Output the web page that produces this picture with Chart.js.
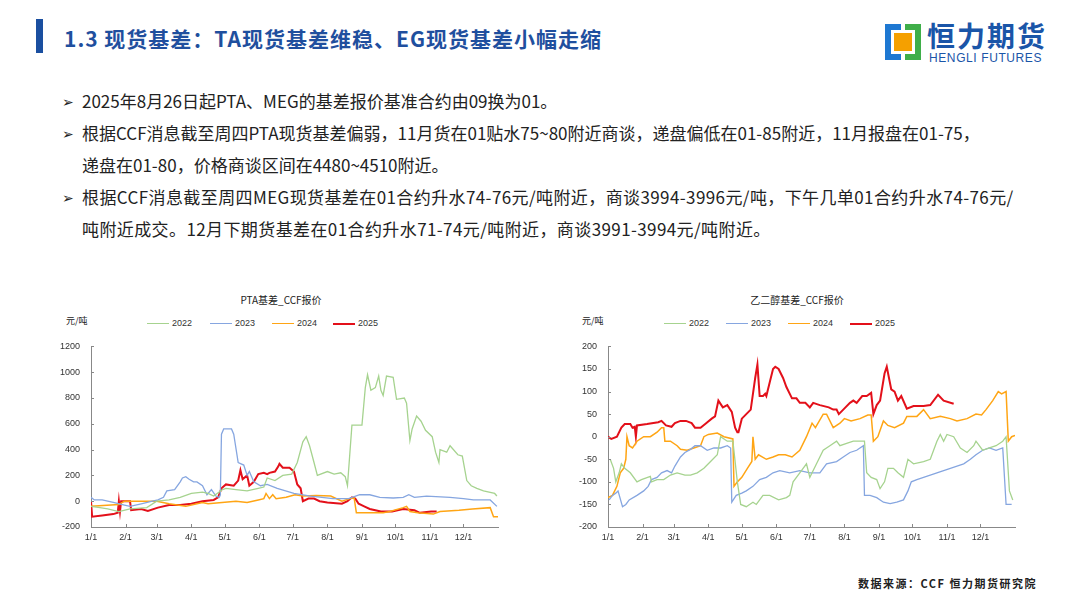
<!DOCTYPE html>
<html>
<head>
<meta charset="utf-8">
<script src="https://cdn.jsdelivr.net/npm/chart.js@4.4.1/dist/chart.umd.min.js"></script>
<style>
  body { margin: 0; background: #fff; font-family: "Noto Sans CJK SC", sans-serif; }
  #slide { position: relative; width: 1080px; height: 608px; overflow: hidden; background: #fff; }
  .bar { position: absolute; left: 36px; top: 19px; width: 7px; height: 34px; background: #1a4fa0; }
  .head { position: absolute; left: 64px; top: 21px; font-size: 21px; font-weight: 700; color: #1f4f9e; letter-spacing: 1px; line-height: 34px; white-space: nowrap; }
  .logo { position: absolute; left: 883px; top: 22px; width: 170px; height: 42px; }
  .logo .ic { position: absolute; left: 0; top: 0; width: 40px; height: 40px; }
  .logo .cn { position: absolute; left: 44px; top: -7px; font-size: 28px; font-weight: 700; color: #1a55a8; letter-spacing: 2px; white-space: nowrap; }
  .logo .en { position: absolute; left: 46px; top: 29px; font-size: 12px; color: #1a55a8; font-family: "Liberation Sans", sans-serif; letter-spacing: 0.6px; white-space: nowrap; }
  .bullets { position: absolute; left: 62px; top: 85px; font-size: 17px; color: #222; line-height: 32px; }
  .bullets div { position: relative; padding-left: 20px; white-space: nowrap; }
  .bullets div::before { content: "➢"; position: absolute; left: 0; top: 0; font-size: 14px; }
  .bullets .b3 { letter-spacing: 0.4px; }
  .ctitle { position: absolute; font-size: 10px; color: #222; transform: translateX(-50%); white-space: nowrap; }
  .unit { position: absolute; font-size: 9px; color: #222; white-space: nowrap; }
  .leg { position: absolute; font-size: 9px; color: #333; font-family: "Liberation Sans", sans-serif; white-space: nowrap; }
  .leg span.l { display: inline-block; width: 22px; height: 0; vertical-align: middle; margin-right: 3px; }
  .src { position: absolute; left: 858px; top: 575px; font-size: 11px; color: #222; letter-spacing: 1.5px; font-weight: 700; white-space: nowrap; }
  canvas { position: absolute; }
</style>
</head>
<body>
<div id="slide">
  <div class="bar"></div>
  <div class="head">1.3 现货基差：TA现货基差维稳、EG现货基差小幅走缩</div>
  <div class="logo">
    <svg class="ic" viewBox="0 0 40 40">
      <rect x="0" y="0" width="40" height="40" fill="#fff"/>
      <path d="M2 2 H18 V8 H8 V32 H18 V38 H2 Z" fill="#1e78d2"/>
      <path d="M22 2 H38 V38 H22 V32 H32 V8 H22 Z" fill="#3fae49"/>
      <rect x="11" y="11" width="18" height="18" fill="#f5a000"/>
    </svg>
    <div class="cn">恒力期货</div>
    <div class="en">HENGLI FUTURES</div>
  </div>
  <div class="bullets">
    <div>2025年8月26日起PTA、MEG的基差报价基准合约由09换为01。</div>
    <div>根据CCF消息截至周四PTA现货基差偏弱，11月货在01贴水75~80附近商谈，递盘偏低在01-85附近，11月报盘在01-75，<br>递盘在01-80，价格商谈区间在4480~4510附近。</div>
    <div class="b3">根据CCF消息截至周四MEG现货基差在01合约升水74-76元/吨附近，商谈3994-3996元/吨，下午几单01合约升水74-76元/<br>吨附近成交。12月下期货基差在01合约升水71-74元/吨附近，商谈3991-3994元/吨附近。</div>
  </div>

  <div class="ctitle" style="left:281px; top:292px;">PTA基差_CCF报价</div>
  <div class="unit" style="left:66px; top:314px;">元/吨</div>
  <div id="legL"></div>
  <canvas id="ptaChart" style="left:50px; top:330px;" width="470" height="215"></canvas>

  <div class="ctitle" style="left:797px; top:292px;">乙二醇基差_CCF报价</div>
  <div class="unit" style="left:582px; top:314px;">元/吨</div>
  <div id="legR"></div>
  <canvas id="megChart" style="left:567px; top:330px;" width="470" height="215"></canvas>

  <div class="src">数据来源：CCF 恒力期货研究院</div>
</div>

<script>
// 年份 & 颜色
const years = ['2022', '2023', '2024', '2025'];
const colors = ['#a6d38f', '#86a6e0', '#ffa514', '#e3101a'];
const widths = [1.3, 1.3, 1.5, 2];

// 月初（一年中的第几天）与刻度标签
const monthDays = [0, 31, 59, 90, 120, 151, 181, 212, 243, 273, 304, 334];
const monthLabels = ['1/1', '2/1', '3/1', '4/1', '5/1', '6/1', '7/1', '8/1', '9/1', '10/1', '11/1', '12/1'];

// PTA基差 [第几天, 元/吨]
const pta2022 = [[0,-40],[8,-50],[15,-60],[25,-80],[35,-60],[50,-50],[59,0],[70,10],[80,30],[90,60],[100,70],[105,60],[110,40],[118,90],[121,100],[130,90],[140,80],[150,100],[155,110],[158,180],[165,160],[172,200],[180,210],[185,300],[190,460],[193,500],[196,430],[200,300],[203,200],[212,230],[218,210],[224,220],[228,190],[230,120],[234,590],[243,590],[246,880],[248,980],[251,860],[255,880],[258,970],[260,860],[262,820],[265,970],[271,960],[274,790],[281,800],[283,760],[286,470],[288,560],[292,660],[296,620],[300,550],[306,500],[309,380],[312,300],[313,400],[319,380],[322,430],[329,360],[333,350],[337,160],[341,120],[346,100],[352,80],[362,60],[364,40]];
const pta2023 = [[0,30],[3,10],[10,10],[20,-10],[30,-30],[35,-40],[45,-20],[55,0],[60,10],[65,30],[68,80],[75,90],[80,150],[82,180],[85,190],[88,170],[92,150],[95,150],[100,120],[104,50],[108,90],[112,40],[115,30],[116,50],[117,520],[119,560],[126,560],[128,520],[132,300],[137,280],[140,200],[142,230],[146,150],[152,120],[158,130],[167,100],[182,60],[197,40],[217,20],[231,20],[241,50],[250,50],[259,30],[271,25],[280,30],[285,50],[290,30],[301,40],[322,30],[334,20],[343,10],[358,10],[364,-40]];
const pta2024 = [[0,-40],[25,-25],[30,0],[59,0],[70,-20],[85,-40],[95,-20],[100,-10],[105,-20],[130,0],[140,-10],[150,10],[155,20],[157,60],[160,20],[163,50],[166,20],[175,30],[183,50],[190,40],[202,45],[215,40],[225,0],[232,20],[236,25],[238,-90],[262,-90],[268,-80],[280,-50],[283,-40],[286,-80],[293,-90],[307,-100],[313,-80],[330,-70],[342,-60],[358,-50],[361,-120],[365,-120]];
const pta2025 = [[0,0],[1,-120],[10,-110],[20,-100],[24,-90],[25,0],[26,-80],[27,0],[35,0],[36,-70],[45,-60],[51,-75],[60,-50],[70,-30],[80,-30],[90,-20],[100,0],[110,10],[114,30],[117,100],[121,130],[128,120],[132,160],[134,240],[136,170],[140,200],[142,120],[146,150],[150,210],[155,220],[158,210],[160,220],[165,230],[168,270],[169,290],[172,260],[178,260],[182,230],[185,130],[188,100],[190,0],[195,20],[200,20],[205,0],[212,-10],[225,-20],[230,0],[234,30],[237,20],[240,-20],[245,-40],[250,-60],[255,-70],[260,-80],[270,-80],[280,-60],[290,-70],[295,-90],[305,-80],[310,-80]];

// 乙二醇基差 [第几天, 元/吨]
const meg2022 = [[2,-50],[5,-70],[7,-100],[10,-80],[12,-60],[15,-70],[20,-80],[26,-100],[30,-95],[38,-88],[39,-100],[44,-95],[50,-95],[56,-85],[62,-80],[69,-85],[74,-85],[80,-80],[86,-70],[92,-55],[98,-40],[101,0],[107,-10],[112,-10],[116,-100],[119,-150],[124,-155],[130,-145],[133,-150],[139,-130],[145,-130],[153,-140],[160,-135],[163,-130],[166,-100],[172,-80],[178,-60],[181,-90],[187,-60],[193,-30],[199,-20],[205,-10],[208,-20],[214,-15],[220,-10],[226,-10],[230,-10],[232,-80],[236,-90],[241,-95],[244,-115],[248,-100],[251,-70],[256,-70],[260,-80],[265,-90],[269,-50],[274,-60],[283,-55],[289,-50],[292,-30],[295,-10],[298,5],[301,-10],[304,5],[310,0],[316,-25],[322,-35],[328,-20],[330,-10],[336,-30],[342,-25],[348,-20],[354,-10],[357,0],[360,-120],[363,-140]];
const meg2023 = [[1,-140],[4,-130],[7,-125],[9,-120],[13,-155],[16,-150],[19,-140],[26,-130],[32,-120],[36,-110],[39,-95],[44,-90],[48,-80],[53,-75],[57,-80],[60,-65],[65,-45],[69,-35],[74,-28],[78,-20],[83,-20],[89,-30],[95,-25],[101,-25],[107,-20],[110,-25],[111,-145],[115,-130],[120,-125],[124,-120],[130,-110],[136,-95],[142,-90],[148,-80],[154,-75],[163,-80],[172,-75],[181,-80],[190,-80],[196,-60],[205,-55],[211,-45],[217,-35],[223,-30],[229,-20],[230,-130],[235,-130],[241,-135],[247,-145],[253,-148],[259,-145],[265,-140],[269,-120],[272,-100],[277,-95],[283,-90],[289,-85],[295,-80],[301,-75],[307,-70],[313,-65],[319,-60],[325,-50],[330,-40],[336,-30],[342,-25],[348,-30],[354,-25],[357,-150],[362,-150]];
const meg2024 = [[0,-135],[4,-130],[8,-110],[11,-80],[14,-70],[16,-50],[17,0],[19,-20],[22,-25],[26,-10],[32,0],[38,0],[44,10],[48,20],[50,20],[51,-10],[56,-10],[62,-20],[65,-28],[71,-30],[77,-25],[83,-20],[86,0],[90,5],[98,8],[104,0],[112,-5],[113,-110],[116,-100],[120,-90],[125,-70],[129,-55],[130,0],[132,-50],[135,-40],[142,-50],[148,-45],[153,-40],[159,-40],[165,-45],[172,-30],[178,0],[183,30],[186,20],[193,50],[196,50],[202,20],[208,30],[212,40],[218,35],[226,40],[233,48],[236,48],[238,-10],[242,0],[247,35],[251,25],[257,20],[265,30],[268,45],[277,45],[283,60],[289,40],[298,45],[307,40],[313,35],[322,40],[330,50],[335,48],[339,60],[345,80],[350,100],[353,95],[357,100],[359,-10],[362,0],[365,3]];
const meg2025 = [[0,0],[3,-5],[8,0],[12,20],[15,28],[20,28],[22,20],[24,22],[25,0],[26,25],[35,28],[45,32],[48,35],[52,25],[57,22],[60,30],[65,35],[70,35],[75,30],[78,20],[83,20],[88,30],[93,40],[96,45],[99,80],[103,65],[107,70],[111,55],[114,20],[116,10],[117,10],[120,40],[124,50],[128,60],[132,130],[134,160],[136,90],[139,90],[141,95],[142,90],[145,120],[148,150],[150,155],[153,150],[157,130],[160,110],[165,85],[169,85],[172,75],[177,75],[181,65],[184,75],[190,70],[198,65],[202,60],[205,60],[207,50],[211,60],[217,75],[220,80],[223,75],[228,90],[232,90],[236,97],[238,50],[241,70],[244,80],[248,140],[250,155],[254,105],[257,100],[260,80],[263,90],[268,62],[274,68],[283,68],[289,70],[296,93],[301,80],[310,73]];

// y轴范围
const ptaTicks = { min: -200, max: 1200, step: 200 };
const megTicks = { min: -200, max: 200, step: 50 };

// 图例（HTML）
function buildLegend(id, xs, top) {
  const box = document.getElementById(id);
  years.forEach((y, i) => {
    const d = document.createElement('div');
    d.className = 'leg';
    d.style.left = xs[i] + 'px';
    d.style.top = top + 'px';
    d.innerHTML = '<span class="l" style="border-top:' + (i === 3 ? 2 : 1.5) + 'px solid ' + colors[i] + '"></span>' + y;
    box.appendChild(d);
  });
}
buildLegend('legL', [147, 210, 272, 333], 318);
buildLegend('legR', [664, 726, 788, 850], 318);

// 轴内侧小刻度
const innerTicks = {
  id: 'innerTicks',
  afterDraw(chart) {
    const ctx = chart.ctx;
    const xs = chart.scales.x, ys = chart.scales.y;
    ctx.save();
    ctx.strokeStyle = '#888';
    ctx.lineWidth = 1;
    ctx.beginPath();
    ys.ticks.forEach(t => {
      const py = Math.round(ys.getPixelForValue(t.value)) + 0.5;
      ctx.moveTo(xs.left, py);
      ctx.lineTo(xs.left + 3, py);
    });
    xs.ticks.forEach(t => {
      const px = Math.round(xs.getPixelForValue(t.value)) + 0.5;
      ctx.moveTo(px, ys.bottom);
      ctx.lineTo(px, ys.bottom - 3);
    });
    ctx.stroke();
    ctx.restore();
  }
};

function makeChart(id, series, yt) {
  const ctx = document.getElementById(id).getContext('2d');
  return new Chart(ctx, {
    type: 'line',
    data: {
      datasets: series.map((s, i) => ({
        label: years[i],
        data: s.map(p => ({ x: p[0], y: p[1] })),
        borderColor: colors[i],
        borderWidth: widths[i],
        pointRadius: 0,
        tension: 0,
        fill: false
      }))
    },
    options: {
      responsive: false,
      animation: false,
      layout: { padding: { top: 12, right: 22, left: 0, bottom: 0 } },
      plugins: { legend: { display: false }, tooltip: { enabled: false } },
      scales: {
        x: {
          type: 'linear',
          min: 0,
          max: 365,
          grid: { display: false, drawTicks: false },
          border: { display: true, color: '#888', width: 1 },
          afterBuildTicks: axis => { axis.ticks = monthDays.map(v => ({ value: v })); },
          afterFit: axis => { axis.height = 18; },
          ticks: {
            autoSkip: false,
            maxRotation: 0,
            padding: 5,
            color: '#333',
            font: { family: 'Liberation Sans', size: 9 },
            callback: v => monthLabels[monthDays.indexOf(v)]
          }
        },
        y: {
          min: yt.min,
          max: yt.max,
          grid: { display: false, drawTicks: false },
          border: { display: true, color: '#888', width: 1 },
          afterFit: axis => { axis.width = 41; },
          ticks: {
            stepSize: yt.step,
            padding: 11,
            color: '#333',
            font: { family: 'Liberation Sans', size: 9 },
            callback: v => String(v)
          }
        }
      }
    },
    plugins: [innerTicks]
  });
}

makeChart('ptaChart', [pta2022, pta2023, pta2024, pta2025], ptaTicks);
makeChart('megChart', [meg2022, meg2023, meg2024, meg2025], megTicks);
</script>
</body>
</html>
